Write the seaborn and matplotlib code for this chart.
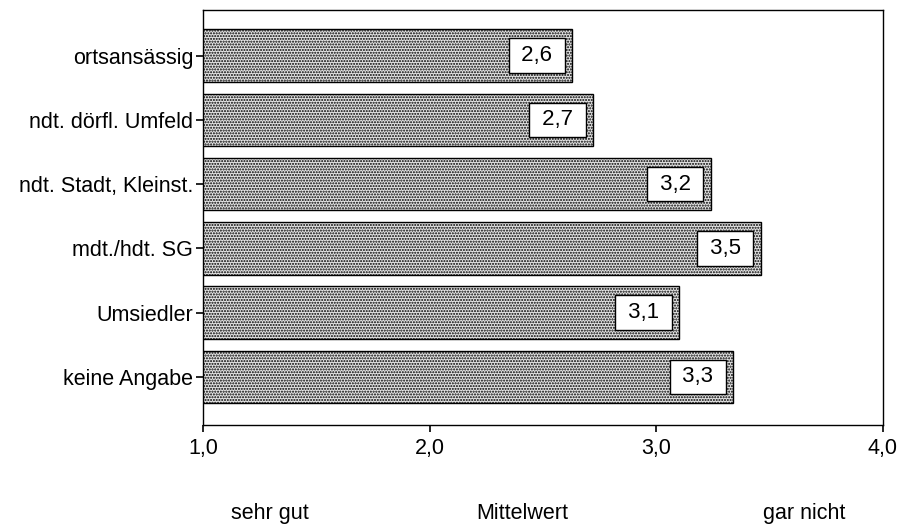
import matplotlib
matplotlib.use("Agg")
import matplotlib.pyplot as plt
import seaborn as sns

categories = ["ortsansässig", "ndt. dörfl. Umfeld", "ndt. Stadt, Kleinst.",
              "mdt./hdt. SG", "Umsiedler", "keine Angabe"]
means = [2.63, 2.72, 3.24, 3.46, 3.10, 3.34]
x_ticks = [1.0, 2.0, 3.0, 4.0]
scale_labels = ["sehr gut", "Mittelwert", "gar nicht"]

sns.set_style("white")
plt.rcParams["font.family"] = ["Liberation Sans", "DejaVu Sans"]
plt.rcParams["text.color"] = "black"
plt.rcParams["xtick.color"] = "black"
plt.rcParams["ytick.color"] = "black"
plt.rcParams["hatch.color"] = "#4a4a4a"
plt.rcParams["hatch.linewidth"] = 1.0


def de(v):
    # German decimal comma
    return f"{v:.1f}".replace(".", ",")


fig = plt.figure(figsize=(9.01, 5.28), dpi=100)
ax = fig.add_axes([0.2253, 0.195, 0.7547, 0.786])

sns.barplot(x=means, y=categories, orient="h", width=0.82, color="#e4e4e4",
            edgecolor="black", linewidth=1.0, ax=ax)
for p in ax.patches:
    p.set_hatch("......")

for i, v in enumerate(means):
    ax.annotate(f" {de(v)} ", xy=(v, i), xytext=(-10, 0),
                textcoords="offset points", ha="right", va="center",
                fontsize=16,
                bbox=dict(boxstyle="square,pad=0.3", fc="white", ec="black", lw=1.0))

ax.set_xlim(1.0, 4.0)
ax.set_ylim(5.75, -0.71)
ax.set_xticks(x_ticks)
ax.set_xticklabels([de(t) for t in x_ticks], fontsize=15.5)
ax.tick_params(axis="y", labelsize=15.5, length=5, width=1.2, pad=2, left=True)
ax.tick_params(axis="x", length=5, width=1.2, pad=4, bottom=True)
ax.set_xlabel("")
ax.set_ylabel("")
for s in ax.spines.values():
    s.set_visible(True)
    s.set_color("black")
    s.set_linewidth(1.0)

for x, lab in zip([0.300, 0.580, 0.893], scale_labels):
    fig.text(x, 0.028, lab, ha="center", va="center", fontsize=15.5)

fig.savefig("out.png", dpi=100)
